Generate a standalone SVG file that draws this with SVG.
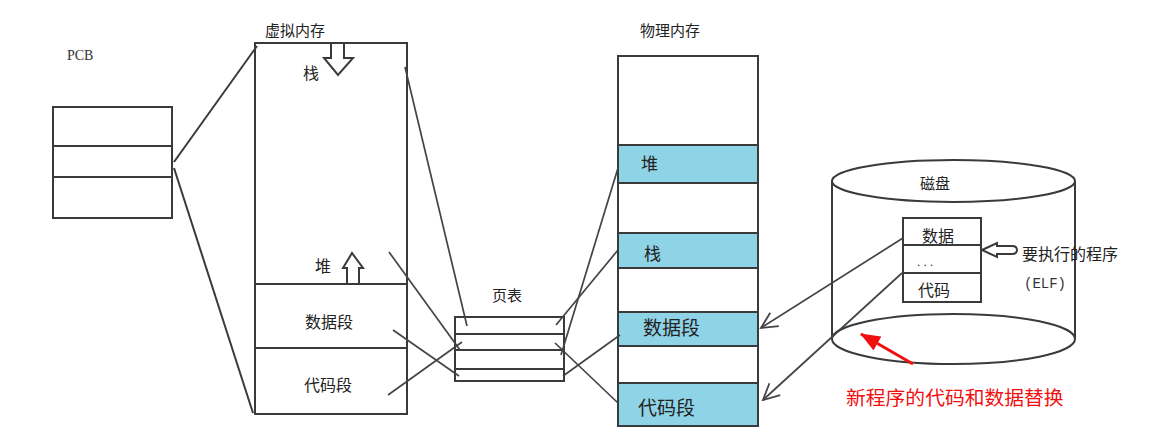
<svg xmlns="http://www.w3.org/2000/svg" width="1161" height="435" viewBox="0 0 1161 435">
<defs>
<style>
.box{fill:#fff;stroke:#3a3a3a;stroke-width:2}
.ln{stroke:#3a3a3a;stroke-width:2;fill:none}
.thin{stroke:#444;stroke-width:1.7;fill:none}
.band{fill:#8fd3e6;stroke:#3a3a3a;stroke-width:2}
.t{font-family:"Noto Sans CJK SC","Noto Sans",sans-serif;fill:#222}
.s{font-family:"Liberation Serif","Noto Sans CJK SC",serif;fill:#333}
.m{font-family:"Liberation Mono","DejaVu Sans Mono",monospace;fill:#333}
.red{font-family:"Noto Sans CJK SC",sans-serif;fill:#f01010}
</style>
<marker id="open" viewBox="0 0 20 20" refX="18" refY="10" markerWidth="20" markerHeight="20" markerUnits="userSpaceOnUse" orient="auto">
<path d="M2,2 L18,10 L2,18" fill="none" stroke="#444" stroke-width="1.8"/>
</marker>
<marker id="redhead" viewBox="0 0 20 16" refX="19" refY="8" markerWidth="20" markerHeight="16" markerUnits="userSpaceOnUse" orient="auto">
<path d="M0,0 L20,8 L0,16 Z" fill="#f01010"/>
</marker>
</defs>
<rect width="1161" height="435" fill="#fff"/>

<g id="pcb">
<text class="s" x="67" y="60" font-size="14">PCB</text>
<rect class="box" x="53" y="107" width="119" height="111"/>
<line class="ln" x1="53" y1="146" x2="172" y2="146"/>
<line class="ln" x1="53" y1="177" x2="172" y2="177"/>
</g>

<g id="virtual-memory">
<text class="t" x="265" y="36" font-size="15">虚拟内存</text>
<rect class="box" x="255" y="43" width="152" height="371"/>
<line class="ln" x1="255" y1="284" x2="407" y2="284"/>
<line class="ln" x1="255" y1="348" x2="407" y2="348"/>
<path class="ln" d="M331,43 L331,58 L324,58 L338,75 L353,58 L344,58 L344,43" fill="#fff"/>
<text class="t" x="303" y="79" font-size="16">栈</text>
<path class="ln" d="M347,283 L347,268 L343,268 L352,253 L363,268 L359,268 L359,283" fill="#fff"/>
<text class="t" x="315" y="272" font-size="16">堆</text>
<text class="t" x="305" y="328" font-size="16">数据段</text>
<text class="t" x="304" y="391" font-size="16">代码段</text>
</g>

<g id="page-table">
<text class="t" x="492" y="301" font-size="15">页表</text>
<rect class="box" x="455" y="317" width="109" height="64"/>
<line class="ln" x1="455" y1="334" x2="564" y2="334"/>
<line class="ln" x1="455" y1="350" x2="564" y2="350"/>
<line class="ln" x1="455" y1="369" x2="564" y2="369"/>
</g>

<g id="physical-memory">
<text class="t" x="640" y="36" font-size="15">物理内存</text>
<rect class="box" x="618" y="56" width="140" height="370"/>
<rect class="band" x="618" y="145" width="140" height="38"/>
<rect class="band" x="618" y="233" width="140" height="35"/>
<rect class="band" x="618" y="312" width="140" height="34"/>
<rect class="band" x="618" y="383" width="140" height="43"/>
<text class="t" x="641" y="170" font-size="17">堆</text>
<text class="t" x="644" y="260" font-size="17">栈</text>
<text class="t" x="643" y="335" font-size="19">数据段</text>
<text class="t" x="638" y="415" font-size="19">代码段</text>
</g>

<g id="disk">
<path class="ln" d="M832,181 L832,339 M1075,181 L1075,339"/>
<ellipse class="ln" cx="953.5" cy="181" rx="121.5" ry="21"/>
<ellipse class="ln" cx="953.5" cy="339" rx="121.5" ry="25"/>
<text class="t" x="920" y="189" font-size="15">磁盘</text>
<rect class="box" x="903" y="218" width="78" height="84"/>
<line class="ln" x1="903" y1="245" x2="981" y2="245"/>
<line class="ln" x1="903" y1="273" x2="981" y2="273"/>
<text class="t" x="922" y="242" font-size="16">数据</text>
<text class="s" x="917" y="266" font-size="13">. . .</text>
<text class="t" x="918" y="296" font-size="16">代码</text>
</g>

<g id="elf-label">
<path class="ln" d="M982,250 L997,243 L997,246 L1012,246 Q1017,246 1017,250 Q1017,254 1012,254 L997,254 L997,257 Z" fill="#fff"/>
<text class="t" x="1022" y="260" font-size="16">要执行的程序</text>
<text class="m" x="1024" y="288" font-size="14">(ELF)</text>
</g>

<g id="note">
<text class="red" x="846" y="405" font-size="19.8">新程序的代码和数据替换</text>
</g>

<g id="connectors">
<line class="ln" x1="174" y1="162" x2="257" y2="46"/>
<line class="ln" x1="174" y1="168" x2="253" y2="413"/>
<line class="thin" x1="405" y1="67" x2="467" y2="326"/>
<line class="thin" x1="389" y1="252" x2="460" y2="350"/>
<line class="thin" x1="393" y1="330" x2="459" y2="376"/>
<line class="thin" x1="388" y1="395" x2="462" y2="342"/>
<line class="thin" x1="618" y1="168" x2="561" y2="355"/>
<line class="thin" x1="618" y1="250" x2="556" y2="325"/>
<line class="thin" x1="620" y1="335" x2="563" y2="376"/>
<line class="thin" x1="618" y1="403" x2="555" y2="343"/>
<line class="thin" x1="903" y1="238" x2="761" y2="328" marker-end="url(#open)"/>
<line class="thin" x1="902" y1="273" x2="763" y2="400" marker-end="url(#open)"/>
<line x1="913" y1="364" x2="861" y2="334" stroke="#f01010" stroke-width="3" marker-end="url(#redhead)"/>
</g>
</svg>
